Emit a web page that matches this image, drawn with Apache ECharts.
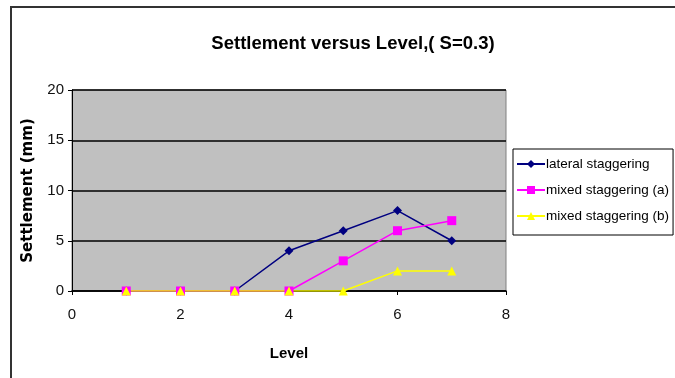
<!DOCTYPE html>
<html>
<head>
<meta charset="utf-8">
<script src="https://cdn.jsdelivr.net/npm/echarts@6/dist/echarts.min.js"></script>
<style>
  html, body { margin: 0; padding: 0; background: #fff; }
  #chart { width: 675px; height: 378px; }
</style>
</head>
<body>
<div id="chart"></div>
<script>
// Settlement (mm) against level for three staggering layouts
const levels = [1, 2, 3, 4, 5, 6, 7];
const lateralStaggering = [0, 0, 0, 4, 6, 8, 5];
const mixedStaggeringA = [0, 0, 0, 0, 3, 6, 7];
const mixedStaggeringB = [0, 0, 0, 0, 0, 2, 2];
const seriesNames = ['lateral staggering', 'mixed staggering (a)', 'mixed staggering (b)'];
const xTicks = [0, 2, 4, 6, 8];
const yTicks = [0, 5, 10, 15, 20];

const sans = '"Liberation Sans", Arial, sans-serif';
const wide = '"DejaVu Sans", sans-serif';

function pairs(values) {
  return levels.map((lv, i) => [lv, values[i]]);
}

const chart = echarts.init(document.getElementById('chart'));
chart.setOption({
  animation: false,
  backgroundColor: '#ffffff',
  title: {
    text: 'Settlement versus Level,( S=0.3)',
    left: 348,
    top: 29,
    textAlign: 'center',
    textStyle: { fontFamily: sans, fontSize: 18.5, fontWeight: 'bold', color: '#000' }
  },
  grid: { left: 72, right: 169, top: 90, bottom: 87, show: true, backgroundColor: '#c0c0c0', borderColor: '#808080', borderWidth: 1 },
  legend: {
    orient: 'vertical',
    left: 513,
    top: 149,
    padding: [8, 4, 12, 3],
    itemGap: 12,
    itemWidth: 28,
    itemHeight: 10,
    borderColor: '#000',
    borderWidth: 1,
    backgroundColor: '#fff',
    data: seriesNames,
    textStyle: { fontFamily: sans, fontSize: 13.5, color: '#000', padding: [0, 0, 0, -4] }
  },
  xAxis: {
    type: 'value',
    min: xTicks[0],
    max: xTicks[xTicks.length - 1],
    interval: 2,
    name: 'Level',
    nameLocation: 'middle',
    nameGap: 55,
    nameTextStyle: { fontFamily: sans, fontSize: 15, fontWeight: 'bold', color: '#000' },
    axisLine: { lineStyle: { color: '#000', width: 1.5 } },
    axisTick: { show: true, inside: false, length: 4, lineStyle: { color: '#000' } },
    axisLabel: { fontFamily: sans, fontSize: 15, color: '#111', margin: 16 },
    splitLine: { show: false }
  },
  yAxis: {
    type: 'value',
    min: yTicks[0],
    max: yTicks[yTicks.length - 1],
    interval: 5,
    name: 'Settlement (mm)',
    nameLocation: 'middle',
    nameGap: 36,
    nameRotate: 90,
    nameTextStyle: { fontFamily: wide, fontSize: 15, fontWeight: 'bold', color: '#000' },
    axisLine: { show: true, lineStyle: { color: '#000', width: 1 } },
    axisTick: { show: true, length: 4, lineStyle: { color: '#000' } },
    axisLabel: { fontFamily: sans, fontSize: 15, color: '#111', margin: 8 },
    splitLine: { show: true, lineStyle: { color: '#000', width: 1.5 } }
  },
  graphic: [{
    type: 'polyline',
    shape: { points: [[11, 378], [11, 7], [675, 7]] },
    style: { stroke: '#333', lineWidth: 2, fill: null },
    silent: true
  }],
  series: [
    {
      name: seriesNames[0], type: 'line', data: pairs(lateralStaggering),
      symbol: 'diamond', symbolSize: 9,
      itemStyle: { color: '#000080' }, lineStyle: { color: '#000080', width: 1.5 }
    },
    {
      name: seriesNames[1], type: 'line', data: pairs(mixedStaggeringA),
      symbol: 'rect', symbolSize: 9,
      itemStyle: { color: '#ff00ff' }, lineStyle: { color: '#ff00ff', width: 1.5 }
    },
    {
      name: seriesNames[2], type: 'line', data: pairs(mixedStaggeringB),
      symbol: 'triangle', symbolSize: 9,
      itemStyle: { color: '#ffff00' }, lineStyle: { color: '#ffff00', width: 1.5 }
    }
  ]
});
</script>
</body>
</html>
